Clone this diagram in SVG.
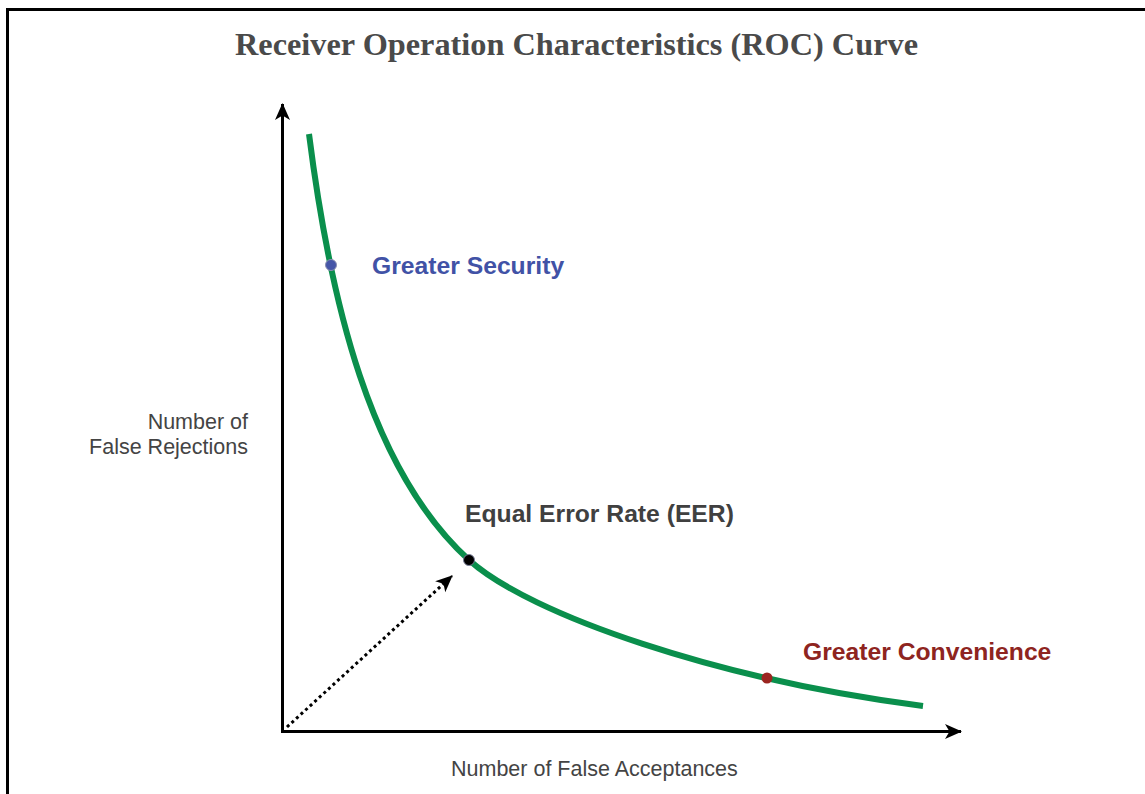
<svg xmlns="http://www.w3.org/2000/svg" width="1145" height="794" viewBox="0 0 1145 794">
  <style>
    .frame { fill: none; stroke: #000; stroke-width: 3; }
    .axis { fill: none; stroke: #000; stroke-width: 3; }
    .curve { fill: none; stroke: #0a8f4c; stroke-width: 6; stroke-linecap: butt; }
    .dotted { fill: none; stroke: #000; stroke-width: 3; stroke-dasharray: 3 3.2; }
    .title { font-family: "Liberation Serif", "DejaVu Serif", serif; font-weight: bold; font-size: 31px; fill: #4a4a4a; }
    .lbl { font-family: "Liberation Sans", Arial, sans-serif; font-weight: bold; font-size: 24.7px; }
    .axlbl { font-family: "Liberation Sans", Arial, sans-serif; font-size: 21.5px; fill: #444; }
  </style>
  <defs>
    <marker id="head" markerWidth="18" markerHeight="18" refX="16" refY="9" orient="auto" markerUnits="userSpaceOnUse">
      <path d="M0,1.5 L17,9 L0,16.5 L4.5,9 Z" fill="#000"/>
    </marker>
  </defs>

  <rect width="1145" height="794" fill="#fff"/>
  <!-- outer frame (left and top edges) -->
  <path class="frame" d="M7.5,794 V9.5 H1145"/>

  <text class="title" x="576.5" y="55" text-anchor="middle" textLength="683" lengthAdjust="spacingAndGlyphs">Receiver Operation Characteristics (ROC) Curve</text>

  <g id="connectors">
    <!-- axes -->
    <path id="y-axis" class="axis" d="M282.5,733 V104" marker-end="url(#head)"/>
    <path id="x-axis" class="axis" d="M281,731.5 H961" marker-end="url(#head)"/>
    <!-- dotted arrow from origin toward the EER point -->
    <path id="eer-arrow" class="dotted" d="M287,727 L452,576" marker-end="url(#head)"/>
    <!-- ROC curve -->
    <path id="roc-curve" class="curve" d="M309,134 C330,300 370,470 469,560 C530,615 720,680 923,706"/>
  </g>

  <g id="security">
    <circle cx="331" cy="265" r="5.5" fill="#4656a8" stroke="#8a8fb0" stroke-width="1"/>
    <text class="lbl" x="372" y="274" fill="#4152a6">Greater Security</text>
  </g>

  <g id="eer">
    <circle cx="469" cy="560" r="5.5" fill="#000" stroke="#7a7f99" stroke-width="1"/>
    <text class="lbl" x="465" y="521.5" fill="#404040">Equal Error Rate (EER)</text>
  </g>

  <g id="convenience">
    <circle cx="767" cy="678" r="5.5" fill="#9b2520"/>
    <text class="lbl" x="803" y="660" fill="#8e2420">Greater Convenience</text>
  </g>

  <g id="y-label">
    <text class="axlbl" x="248" y="428.5" text-anchor="end">Number of</text>
    <text class="axlbl" x="248" y="453.5" text-anchor="end">False Rejections</text>
  </g>

  <g id="x-label">
    <text class="axlbl" x="451" y="776">Number of False Acceptances</text>
  </g>
</svg>
